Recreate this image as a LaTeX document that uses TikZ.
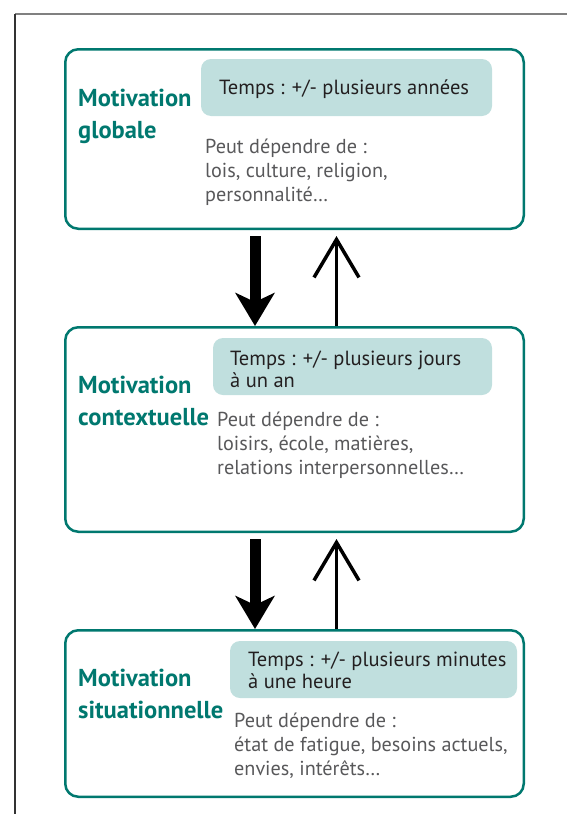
\documentclass[tikz,border=0pt]{standalone}
\usepackage{fontspec}
\setmainfont{PT Sans}
\usetikzlibrary{arrows.meta,positioning}
\definecolor{motivteal}{HTML}{00786F}
\definecolor{timefill}{HTML}{C0DFDE}
\definecolor{peutgray}{HTML}{58585A}
\definecolor{tempsdark}{HTML}{231F20}

\begin{document}
\begin{tikzpicture}[x=1pt,y=-1pt,
    levelbox/.style={draw=motivteal,line width=2.5pt,rounded corners=13pt,
      minimum width=458.5pt,inner sep=0pt},
    timebox/.style={fill=timefill,rounded corners=10pt,minimum height=57pt,inner sep=0pt},
    leveltitle/.style={anchor=base west,inner sep=0pt,align=left,text=motivteal,
      font=\fontsize{24.5}{32}\selectfont\bfseries},
    timetext/.style={anchor=base west,inner sep=0pt,align=left,text=tempsdark,
      font=\fontsize{20.5}{22}\selectfont},
    peuttext/.style={anchor=base west,inner sep=0pt,align=left,text=peutgray,
      font=\fontsize{20.2}{24}\selectfont},
    downarrow/.style={line width=11pt,-{Stealth[length=33pt,width=39pt,inset=9pt]}},
    uparrow/.style={line width=3.5pt,-{Straight Barb[length=38pt,width=45pt]}}]
    \useasboundingbox (0,0) rectangle (567,814);
    \draw[line width=1.2pt,black!50] (15,14) -- (567,14);
    \draw[line width=1.2pt,black!80] (15,14) -- (15,814);

    % motivation globale (anchors sit on the last line)
    \node[levelbox,minimum height=179.5pt] (glob) at (294.5,139) {};
    \node[timebox,minimum width=291pt] (globtbox) at (346.5,87.5) {};
    \node[leveltitle] (globtitle) at (78,138) {Motivation\\globale};
    \node[timetext] (globtemps) at (219,94) {Temps : +/- plusieurs années};
    \node[peuttext] (globpeut) at (205,201) {Peut dépendre de :\\lois, culture, religion,\\personnalité…};

    % motivation contextuelle
    \node[levelbox,minimum height=204.5pt] (cont) at (294.5,429.5) {};
    \node[timebox,minimum width=279pt] (conttbox) at (352.5,366.5) {};
    \node[leveltitle] (conttitle) at (78,425) {Motivation\\contextuelle};
    \node[timetext] (conttemps) at (230,387) {Temps : +/- plusieurs jours\\à un an};
    \node[peuttext] (contpeut) at (217,474) {Peut dépendre de :\\loisirs, école, matières,\\relations interpersonnelles…};

    % motivation situationnelle
    \node[levelbox,minimum height=166.5pt] (situ) at (294.5,713.5) {};
    \node[timebox,minimum width=287pt] (situtbox) at (373.5,669.5) {};
    \node[leveltitle] (situtitle) at (78,718) {Motivation\\situationnelle};
    \node[timetext] (situtemps) at (248,688) {Temps : +/- plusieurs minutes\\à une heure};
    \node[peuttext] (situpeut) at (234,775) {Peut dépendre de :\\état de fatigue, besoins actuels,\\envies, intérêts…};

    % arrows between levels
    \draw[downarrow] ([xshift=-39.5pt,yshift=-6pt]glob.south) -- ([xshift=-39.5pt]cont.north);
    \draw[uparrow] ([xshift=42pt]cont.north) -- ([xshift=42pt,yshift=-6pt]glob.south);
    \draw[downarrow] ([xshift=-39.5pt,yshift=-6pt]cont.south) -- ([xshift=-39.5pt]situ.north);
    \draw[uparrow] ([xshift=42pt]situ.north) -- ([xshift=42pt,yshift=-6pt]cont.south);
\end{tikzpicture}
\end{document}
